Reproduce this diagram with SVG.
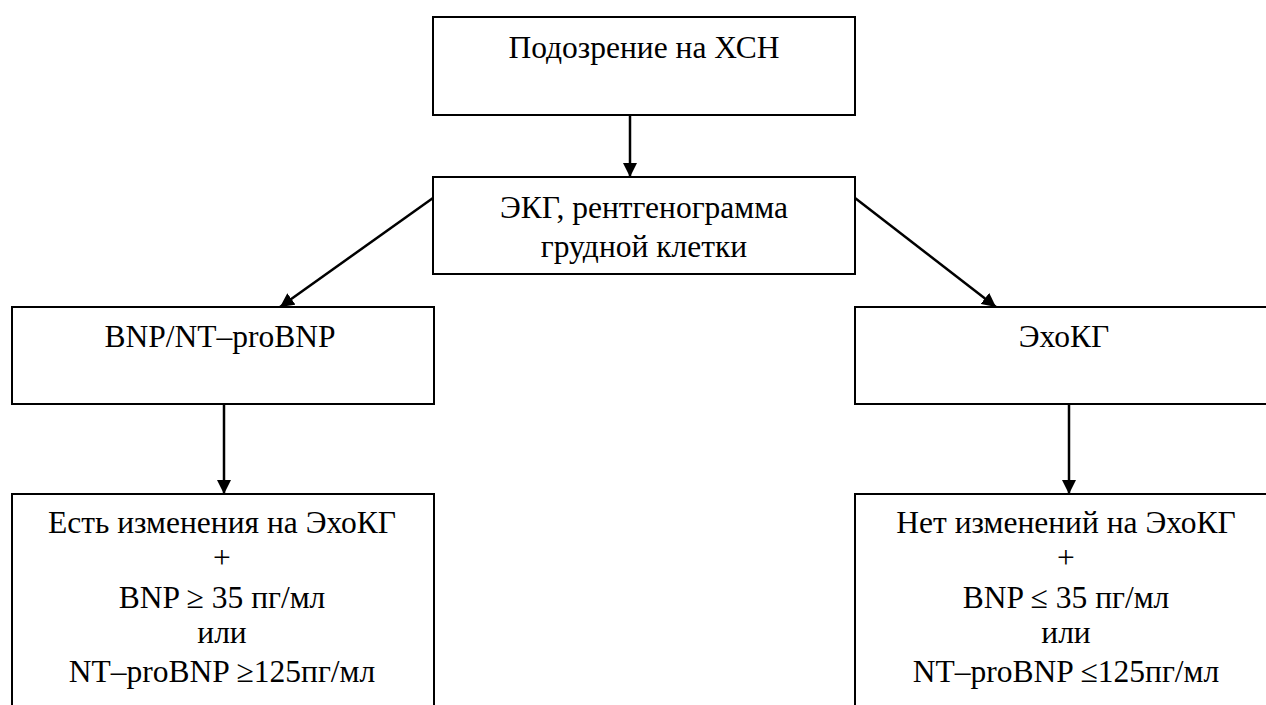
<svg xmlns="http://www.w3.org/2000/svg" width="1266" height="705" viewBox="0 0 1266 705">
<defs>
<style>
.box{fill:#fff;stroke:#000;stroke-width:2}
text{font-family:'Liberation Serif','Times New Roman',serif;font-size:31.5px;fill:#000;text-anchor:middle}
</style>
<marker id="ah2" viewBox="0 0 14 14" refX="14" refY="7" markerWidth="14" markerHeight="14" orient="auto" markerUnits="userSpaceOnUse">
<path d="M0,0 L14,7 L0,14 z" fill="#000"/>
</marker>
</defs>
<g id="connectors" stroke="#000" stroke-width="2.5" marker-end="url(#ah2)">
<line x1="630" y1="115" x2="630" y2="177"/>
<line x1="433" y1="198" x2="280" y2="307"/>
<line x1="855" y1="198" x2="996" y2="307"/>
<line x1="224" y1="404" x2="224" y2="494"/>
<line x1="1069" y1="404" x2="1069" y2="494"/>
</g>
<g id="n1">
<rect class="box" x="433" y="17" width="422" height="98"/>
<text x="644" y="58">Подозрение на ХСН</text>
</g>
<g id="n2">
<rect class="box" x="433" y="177" width="422" height="97"/>
<text x="644" y="218">ЭКГ, рентгенограмма</text>
<text x="644" y="257">грудной клетки</text>
</g>
<g id="n3">
<rect class="box" x="12" y="307" width="422" height="97"/>
<text x="220" y="347">BNP/NT–proBNP</text>
</g>
<g id="n4">
<rect class="box" x="855" y="307" width="422" height="97"/>
<text x="1064" y="347">ЭхоКГ</text>
</g>
<g id="n5">
<rect class="box" x="12" y="494" width="422" height="230"/>
<text x="222" y="533">Есть изменения на ЭхоКГ</text>
<text x="222" y="568">+</text>
<text x="222" y="608">BNP ≥ 35 пг/мл</text>
<text x="222" y="643">или</text>
<text x="222" y="682">NT–proBNP ≥125пг/мл</text>
</g>
<g id="n6">
<rect class="box" x="855" y="494" width="422" height="230"/>
<text x="1066" y="533">Нет изменений на ЭхоКГ</text>
<text x="1066" y="568">+</text>
<text x="1066" y="608">BNP ≤ 35 пг/мл</text>
<text x="1066" y="643">или</text>
<text x="1066" y="682">NT–proBNP ≤125пг/мл</text>
</g>
</svg>
